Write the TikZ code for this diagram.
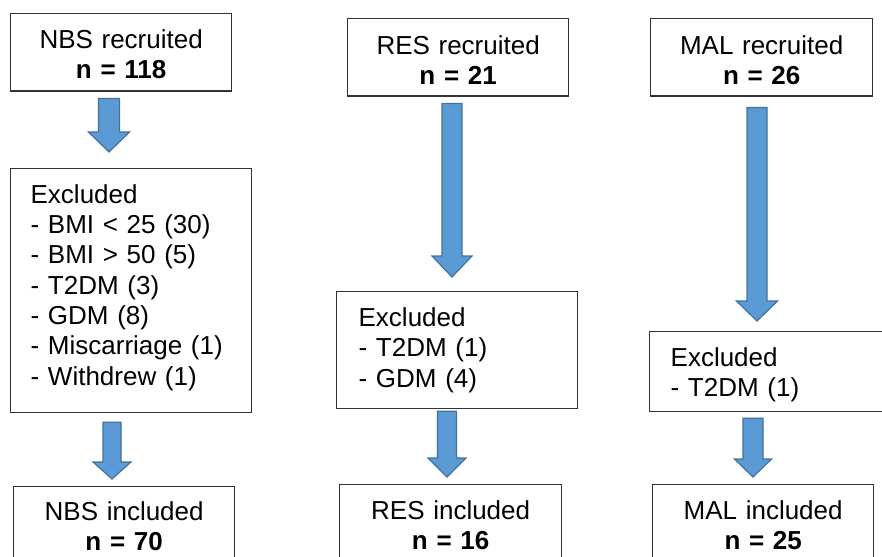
\documentclass[tikz,border=0pt]{standalone}
\usepackage{fontspec}
\setmainfont{Liberation Sans}
\usetikzlibrary{calc}
\definecolor{arrowfill}{HTML}{5B9BD5}
\definecolor{arrowline}{HTML}{41719C}
\newcommand\blockarr[8]{%
  \path (#1.south) ++(0,#4) coordinate (ba-s);
  \path (#2.north) ++(0,-#5) coordinate (ba-e);
  \coordinate (ba-top) at (ba-s -| #3,0);
  \coordinate (ba-tip) at (ba-e -| #3,0);
  \draw[blockarrow] ($(ba-top)+(-#6,0)$) -- ($(ba-top)+(#6,0)$) -- ($(ba-tip)+(#6,-#8)$)
    -- ($(ba-tip)+(#7,-#8)$) -- (ba-tip) -- ($(ba-tip)+(-#7,-#8)$) -- ($(ba-tip)+(-#6,-#8)$) -- cycle;}
\begin{document}
\begin{tikzpicture}[x=1pt,y=-1pt,
  box/.style={draw=black!80, line width=1.3pt, inner ysep=0pt, anchor=north west,
    font=\fontsize{26}{30.3}\selectfont},
  cbox/.style={box, align=center, inner xsep=0pt},
  lbox/.style={box, align=left},
  blockarrow/.style={fill=arrowfill, draw=arrowline, line width=1.2pt, line join=miter}]
\useasboundingbox (0,0) rectangle (882,556);
\clip (0,0) rectangle (882,556);

% NBS column
\node[cbox, text width=221pt] (nbsrec) at (10,13)
  {\rule{0pt}{35pt}NBS recruited\\\textbf{n = 118}\rule[-12pt]{0pt}{12pt}};
\node[lbox, inner xsep=20pt, text width=201pt] (nbsexc) at (10,168)
  {\rule{0pt}{34.7pt}Excluded\\- BMI < 25 (30)\\- BMI > 50 (5)\\- T2DM (3)\\- GDM (8)\\- Miscarriage (1)\\- Withdrew (1)\rule[-27.5pt]{0pt}{27.5pt}};
\node[cbox, text width=221pt] (nbsinc) at (13,486)
  {\rule{0pt}{34pt}NBS included\\\textbf{n = 70}\rule[-12pt]{0pt}{12pt}};

% RES column
\node[cbox, text width=221pt] (resrec) at (347,18)
  {\rule{0pt}{35.5pt}RES recruited\\\textbf{n = 21}\rule[-11.5pt]{0pt}{11.5pt}};
\node[lbox, inner xsep=22pt, text width=197pt] (resexc) at (336,291)
  {\rule{0pt}{35pt}Excluded\\- T2DM (1)\\- GDM (4)\rule[-21.4pt]{0pt}{21.4pt}};
\node[cbox, text width=222pt] (resinc) at (339,484)
  {\rule{0pt}{35pt}RES included\\\textbf{n = 16}\rule[-12pt]{0pt}{12pt}};

% MAL column
\node[cbox, text width=222pt] (malrec) at (650,18)
  {\rule{0pt}{35.5pt}MAL recruited\\\textbf{n = 26}\rule[-11.5pt]{0pt}{11.5pt}};
\node[lbox, inner xsep=21pt, text width=208pt] (malexc) at (649,331)
  {\rule{0pt}{35pt}Excluded\\- T2DM (1)\rule[-14.7pt]{0pt}{14.7pt}};
\node[cbox, text width=221pt] (malinc) at (652,484)
  {\rule{0pt}{35pt}MAL included\\\textbf{n = 25}\rule[-12pt]{0pt}{12pt}};

% block arrows: from, to, x, top gap, tip gap, half shaft, half head, head length
\blockarr{nbsrec}{nbsexc}{109}{7}{16}{10.5}{20.5}{20}
\blockarr{nbsexc}{nbsinc}{112}{9}{7}{9}{19}{17}
\blockarr{resrec}{resexc}{452}{7}{14}{10}{20}{21}
\blockarr{resexc}{resinc}{447}{2}{7}{9.5}{19}{19}
\blockarr{malrec}{malexc}{757}{11}{10}{10}{20.5}{20}
\blockarr{malexc}{malinc}{753}{6}{7}{10}{18.5}{18}
\end{tikzpicture}
\end{document}
